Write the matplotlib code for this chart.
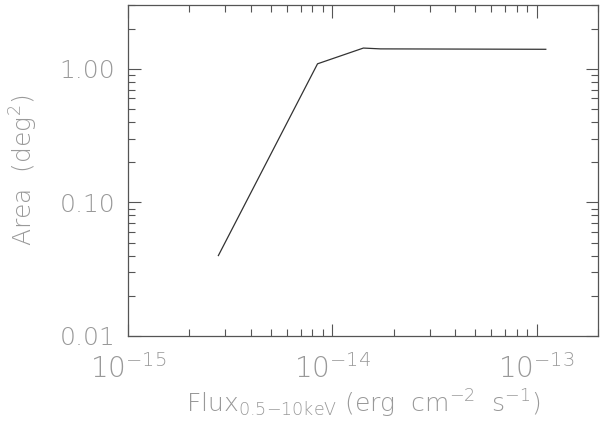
import numpy as np
import matplotlib
matplotlib.use("Agg")
import matplotlib.pyplot as plt
from matplotlib.ticker import FixedLocator, FixedFormatter, LogLocator, NullFormatter

# Sky coverage curve (area vs limiting flux)
flux = [2.77e-15, 8.47e-15, 1.42e-14, 1.72e-14, 1.11e-13]
area = [0.040, 1.09, 1.43, 1.41, 1.40]

x_ticks = [1e-15, 1e-14, 1e-13]
x_labels = ["$10^{-15}$", "$10^{-14}$", "$10^{-13}$"]
y_ticks = [0.01, 0.10, 1.00]
y_labels = ["0.01", "0.10", "1.00"]

plt.rcParams["font.family"] = "DejaVu Sans"
plt.rcParams["font.weight"] = "light"
plt.rcParams["axes.labelweight"] = "light"
plt.rcParams["mathtext.fontset"] = "custom"
plt.rcParams["mathtext.rm"] = "DejaVu Sans:light"
plt.rcParams["mathtext.it"] = "DejaVu Sans:light"
plt.rcParams["mathtext.default"] = "rm"

txt = "#999999"
axc = "#555555"

fig = plt.figure(figsize=(6, 4.23), dpi=100)
ax = fig.add_axes([0.2133, 0.2057, 0.7834, 0.7823])
ax.plot(flux, area, color="#333333", lw=0.9)

ax.set_xscale("log")
ax.set_yscale("log")
ax.set_xlim(1e-15, 2.0e-13)
ax.set_ylim(0.01, 3.0)

ax.xaxis.set_major_locator(FixedLocator(x_ticks))
ax.xaxis.set_major_formatter(FixedFormatter(x_labels))
ax.xaxis.set_minor_locator(LogLocator(base=10, subs=np.arange(2, 10)))
ax.xaxis.set_minor_formatter(NullFormatter())
ax.yaxis.set_major_locator(FixedLocator(y_ticks))
ax.yaxis.set_major_formatter(FixedFormatter(y_labels))
ax.yaxis.set_minor_locator(LogLocator(base=10, subs=np.arange(2, 10)))
ax.yaxis.set_minor_formatter(NullFormatter())

ax.tick_params(which="both", direction="in", top=True, right=True,
               color=axc, width=0.8)
ax.tick_params(which="major", length=9)
ax.tick_params(which="minor", length=5)
ax.tick_params(axis="x", labelsize=20, labelcolor=txt, pad=13)
ax.tick_params(axis="y", labelsize=18, labelcolor=txt, pad=9)

for s in ax.spines.values():
    s.set_color(axc)
    s.set_linewidth(0.9)

ax.set_xlabel("Flux$_{0.5{-}10\\mathrm{keV}}$ (erg  cm$^{-2}$  s$^{-1}$)",
              fontsize=18, fontweight="light", color=txt, labelpad=3)
ax.set_ylabel("Area  (deg$^2$)", fontsize=18, fontweight="light",
              color=txt, labelpad=14)

fig.savefig("out.png", dpi=100)
